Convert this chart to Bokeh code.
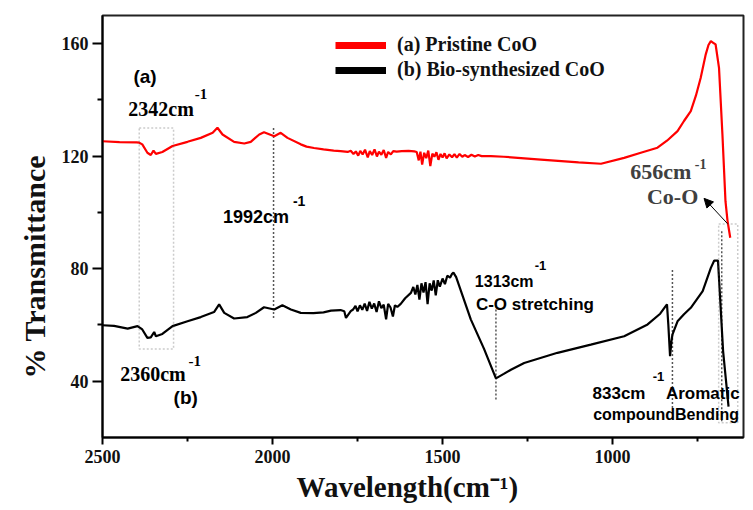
from bokeh.plotting import figure
from bokeh.models import (Range1d, FixedTicker, Label, BoxAnnotation, Arrow,
                          NormalHead, Legend, LegendItem, Title)
from bokeh.embed import file_html
from bokeh.resources import INLINE

# ---------------- data ----------------
red_w = [2500, 2450, 2400, 2392, 2383, 2368, 2358, 2350, 2343, 2324, 2294, 2250,
         2211, 2176, 2162, 2147, 2113, 2083, 2064, 2039, 2025, 1995, 1976, 1956,
         1917, 1900, 1878, 1850, 1820, 1800, 1779,
         1770, 1762, 1755, 1748, 1742, 1735, 1728, 1720, 1714, 1707, 1700, 1693,
         1687, 1680, 1673, 1666, 1660, 1652, 1645, 1635, 1620, 1600, 1583,
         1576, 1570, 1565, 1560, 1554, 1548, 1542, 1536, 1530, 1524, 1518, 1512,
         1506, 1500, 1494, 1488, 1480, 1472, 1465, 1458, 1450, 1442, 1435, 1425,
         1415, 1405, 1395, 1385, 1358, 1320, 1211, 1100, 1034, 966, 917, 868,
         840, 809, 790, 770, 755, 741, 726, 718, 711, 704, 697, 687, 677, 668,
         662, 654]
red_t = [125.3, 125.0, 124.9, 124.8, 124.2, 121.2, 120.4, 122.0, 120.8, 121.5, 123.6, 125.1,
         126.5, 128.3, 130.1, 127.7, 125.1, 124.5, 125.1, 127.7, 128.5, 127.1, 128.3, 126.5,
         124.2, 123.4, 122.9, 122.4, 122.0, 121.8, 121.5,
         121.9, 120.8, 121.7, 120.2, 121.9, 120.6, 122.3, 119.6, 121.8, 120.4, 122.4, 119.9,
         121.6, 120.5, 122.2, 119.4, 121.5, 120.6, 121.8, 121.6, 121.8, 121.9, 121.7,
         121.5, 118.5, 121.6, 117.0, 121.2, 119.3, 122.0, 116.5, 120.9, 119.8, 121.4, 118.7,
         120.8, 119.5, 121.0, 119.2, 120.6, 119.6, 120.7, 119.5, 120.8, 119.8, 120.4, 119.7,
         120.5, 119.9, 120.4, 120.0, 120.0, 119.8, 118.8, 117.8, 117.3, 119.4, 121.2, 123.0,
         125.5, 128.9, 132.5, 136.0, 141.5, 147.8, 156.2, 159.5, 160.9, 160.3, 159.7, 151.4,
         127.8, 104.0, 97.0, 91.0]

black_w = [2500, 2466, 2426, 2397, 2383, 2368, 2358, 2348, 2343, 2324, 2294, 2250,
           2211, 2172, 2157, 2142, 2113, 2074, 2049, 2025, 1995, 1971, 1946, 1917,
           1880, 1850, 1828, 1800, 1789, 1784, 1770,
           1763, 1756, 1750, 1743, 1736, 1729, 1722, 1715, 1708, 1701, 1694, 1687,
           1680, 1673, 1666, 1660, 1653, 1646, 1640, 1633, 1623, 1610, 1593, 1586,
           1580, 1574, 1568, 1562, 1556, 1550, 1544, 1538, 1532, 1526, 1520, 1514,
           1508, 1500, 1493, 1486, 1478, 1472, 1468, 1460, 1417, 1378, 1343, 1320,
           1299, 1260, 1162, 1064, 966, 897, 860, 845, 840, 836, 831, 827, 824, 809,
           790, 770, 735, 711, 701, 690, 675, 659]
black_t = [59.9, 59.7, 58.7, 59.6, 58.4, 55.4, 55.6, 57.5, 56.0, 56.8, 59.6, 61.3,
           62.8, 64.6, 67.3, 64.3, 62.3, 62.8, 64.3, 66.3, 65.5, 67.0, 65.5, 64.3,
           64.2, 64.5, 65.1, 65.3, 64.9, 62.5, 64.9,
           65.5, 66.8, 64.8, 67.0, 65.4, 67.6, 65.0, 68.2, 65.8, 67.6, 64.6, 68.4,
           66.0, 67.2, 62.0, 67.5, 66.2, 63.0, 67.0, 66.4, 67.5, 69.5, 71.4, 73.5,
           70.8, 74.2, 69.0, 74.8, 71.5, 75.2, 67.4, 74.8, 72.2, 75.8, 70.5, 75.9,
           73.6, 76.5, 74.5, 77.5, 76.8, 78.2, 78.6, 77.0, 62.0, 51.5, 41.0, 42.6,
           44.1, 46.5, 50.1, 53.0, 56.0, 60.2, 64.0, 66.5, 67.3, 60.0, 48.9, 54.0, 56.6, 61.3,
           63.8, 66.1, 72.0, 80.3, 82.9, 82.9, 50.7, 31.0]

series_labels = ["(a) Pristine CoO", "(b) Bio-synthesized CoO"]
x_title = "Wavelength(cm\u207b\u00b9)"
y_title = "% Transmittance"
x_ticks = [2500, 2000, 1500, 1000]
x_minor = [2250, 1750, 1250, 750]
y_ticks = [40, 80, 120, 160]
y_minor = [60, 100, 140]

# dashed marker lines (wavenumber, from, to)
vline_x = [1997, 1343, 824, 679]
vline_y0 = [62.5, 33.5, 30.5, 25.8]
vline_y1 = [130.7, 67.8, 79.8, 94.0]
# dashed boxes
box_left = [2392, 688]
box_right = [2291, 632]
box_bottom = [51.5, 25.2]
box_top = [130.0, 95.9]
# arrow (tail -> head)
arrow_x = [662, 731]
arrow_y = [96.0, 105.0]

SERIF = "Liberation Serif"
SANS = "Liberation Sans"

p = figure(width=753, height=510, output_backend="svg", toolbar_location=None,
           title=None, x_range=Range1d(2500, 615), y_range=Range1d(20, 170),
           min_border_left=102, min_border_right=10, min_border_top=15,
           min_border_bottom=73)
p.grid.visible = False
p.background_fill_color = "white"
p.border_fill_color = "white"
p.outline_line_color = "#222222"
p.outline_line_width = 2

p.xaxis.ticker = FixedTicker(ticks=x_ticks, minor_ticks=x_minor)
p.yaxis.ticker = FixedTicker(ticks=y_ticks, minor_ticks=y_minor)
for ax in (p.xaxis, p.yaxis):
    ax.axis_line_width = 2
    ax.axis_line_color = "black"
    ax.major_tick_line_width = 2
    ax.minor_tick_line_width = 2
    ax.major_tick_in = 0
    ax.minor_tick_in = 0
    ax.major_label_text_font = SERIF
    ax.major_label_text_font_style = "bold"
    ax.major_label_text_font_size = "18px"
    ax.major_label_text_color = "#111111"
p.xaxis.major_tick_out = 7
p.xaxis.minor_tick_out = 4
p.xaxis.major_label_standoff = 5
p.yaxis.major_tick_out = 10
p.yaxis.minor_tick_out = 5
p.yaxis.major_label_standoff = 4

p.add_layout(Title(text=x_title, align="left", offset=194, text_font=SERIF,
                   text_font_style="bold", text_font_size="29px",
                   text_color="#111111", standoff=6), "below")
p.add_layout(Title(text=y_title, align="left", offset=59, text_font=SERIF,
                   text_font_style="bold", text_font_size="30px",
                   text_color="#111111", standoff=16), "left")

# dashed guides
for l, r, b, t in zip(box_left, box_right, box_bottom, box_top):
    p.add_layout(BoxAnnotation(left=l, right=r, bottom=b, top=t, fill_alpha=0,
                               line_color="#555555", line_dash="2 2", line_width=1.5))
p.segment(x0=vline_x, y0=vline_y0, x1=vline_x, y1=vline_y1,
          line_color="#555555", line_dash="2 2", line_width=1.5)

# spectra
p.line(red_w, red_t, line_color="#ff0000", line_width=2.2)
p.line(black_w, black_t, line_color="black", line_width=2.2)

# legend swatches (single-point renderers: draw nothing in the plot)
ra = p.line(x=red_w[:1], y=red_t[:1], line_color="#ff0000", line_width=7)
rb = p.line(x=black_w[:1], y=black_t[:1], line_color="black", line_width=7)
legend = Legend(items=[LegendItem(label=series_labels[0], renderers=[ra]),
                       LegendItem(label=series_labels[1], renderers=[rb])],
                location=(233, 356), border_line_color=None,
                background_fill_alpha=0, padding=0, margin=0, spacing=2,
                glyph_width=51, glyph_height=20, label_height=20,
                label_standoff=11, label_text_font=SERIF,
                label_text_font_style="bold", label_text_font_size="20px",
                label_text_color="#111111")
p.add_layout(legend)

p.add_layout(Arrow(end=NormalHead(size=9, fill_color="black", line_color="black"),
                   x_start=arrow_x[0], y_start=arrow_y[0],
                   x_end=arrow_x[1], y_end=arrow_y[1],
                   line_width=1, line_color="black"))


def lab(txt, x, y, font, size, color="black", baseline="alphabetic", **kw):
    p.add_layout(Label(x=x, y=y, text=txt, text_font=font, text_font_style="bold",
                       text_font_size=size, text_color=color,
                       text_baseline=baseline, **kw))


lab("(a)", 2409, 148.4, SANS, "19px", baseline="middle")
lab("2342cm", 2424, 136.7, SERIF, "20px")
lab("-1", 2229, 142.0, SERIF, "15px", baseline="middle")
lab("1992cm", 2146, 98.3, SANS, "18px")
lab("-1", 1940, 104.0, SANS, "14px", baseline="middle")
lab("2360cm", 2448, 42.4, SERIF, "20px")
lab("-1", 2247, 47.1, SERIF, "15px", baseline="middle")
lab("(b)", 2291, 34.1, SANS, "19px", baseline="middle")
lab("1313cm", 1405, 75.6, SANS, "16px")
lab("-1", 1229, 81.2, SANS, "13px", baseline="middle")
lab("C-O stretching", 1402, 67.4, SANS, "17px")
lab("833cm", 1059, 35.8, SANS, "17px")
lab("-1", 882, 41.8, SANS, "13px", baseline="middle")
lab("Aromatic", 843, 35.8, SANS, "17px")
lab("compoundBending", 1057, 28.2, SANS, "16px")
lab("656cm", 948, 114.7, SERIF, "22px", color="#404040")
lab("-1", 758, 117.2, SERIF, "14px", color="#404040", baseline="middle")
lab("Co-O", 899, 105.8, SERIF, "22px", color="#404040")

open("out.html", "w").write(file_html(p, INLINE))
